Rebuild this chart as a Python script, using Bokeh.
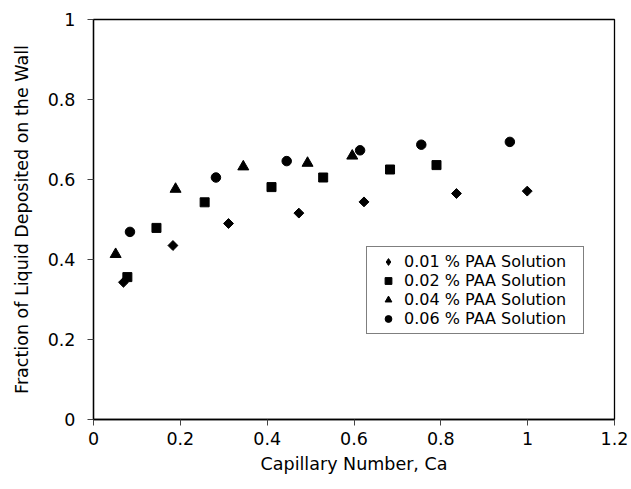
import math
from bokeh.plotting import figure
from bokeh.models import Range1d, FixedTicker, NumeralTickFormatter, Legend, LegendItem
from bokeh.embed import file_html
from bokeh.resources import INLINE

# Data
ca_001 = [0.069, 0.183, 0.311, 0.473, 0.623, 0.836, 0.999]
f_001 = [0.343, 0.435, 0.490, 0.516, 0.544, 0.565, 0.571]
ca_002 = [0.078, 0.145, 0.256, 0.410, 0.529, 0.683, 0.790]
f_002 = [0.356, 0.479, 0.543, 0.581, 0.605, 0.625, 0.636]
ca_004 = [0.051, 0.189, 0.345, 0.493, 0.596]
f_004 = [0.413, 0.576, 0.632, 0.641, 0.659]
ca_006 = [0.084, 0.282, 0.445, 0.614, 0.755, 0.959]
f_006 = [0.469, 0.605, 0.646, 0.673, 0.687, 0.694]

series_labels = ["0.01 % PAA Solution", "0.02 % PAA Solution",
                 "0.04 % PAA Solution", "0.06 % PAA Solution"]
x_ticks = [0, 0.2, 0.4, 0.6, 0.8, 1.0, 1.2]
y_ticks = [0, 0.2, 0.4, 0.6, 0.8, 1.0]

FONT = "DejaVu Sans"

p = figure(width=631, height=489, output_backend="svg", toolbar_location=None,
           x_range=Range1d(0, 1.2), y_range=Range1d(0, 1),
           min_border_left=93, min_border_right=17, min_border_top=19, min_border_bottom=70)
p.background_fill_color = "white"
p.border_fill_color = "white"
p.grid.visible = False
p.outline_line_color = "black"
p.outline_line_width = 1.3

p.xaxis.ticker = FixedTicker(ticks=x_ticks)
p.yaxis.ticker = FixedTicker(ticks=y_ticks)
p.xaxis.formatter = NumeralTickFormatter(format="0.[0]")
p.yaxis.formatter = NumeralTickFormatter(format="0.[0]")
for ax in (p.xaxis[0], p.yaxis[0]):
    ax.axis_line_color = "black"
    ax.axis_line_width = 1.3
    ax.major_tick_line_color = "#444444"
    ax.major_tick_out = 6
    ax.major_tick_in = 0
    ax.minor_tick_line_color = None
    ax.major_label_text_font = FONT
    ax.major_label_text_font_size = "17.5px"
    ax.major_label_text_color = "black"
    ax.axis_label_text_font = FONT
    ax.axis_label_text_font_size = "17.5px"
    ax.axis_label_text_font_style = "normal"
    ax.axis_label_text_color = "black"

p.xaxis.axis_label = "Capillary Number, Ca"
p.yaxis.axis_label = "Fraction of Liquid Deposited on the Wall"
p.xaxis.major_label_standoff = 6
p.yaxis.major_label_standoff = 12
p.xaxis.axis_label_standoff = 6
p.yaxis.axis_label_standoff = 13

r1 = p.scatter(ca_001, f_001, marker="square", angle=math.pi / 4, size=7,
               fill_color="black", line_color="black")
# legend swatch for the diamond series (legend swatches ignore the angle)
r1_key = p.scatter(ca_001, f_001, marker="diamond", size=11,
                   fill_color="black", line_color="black", visible=False)
r2 = p.scatter(ca_002, f_002, marker="square", size=9,
               fill_color="black", line_color="black")
r3 = p.scatter(ca_004, f_004, marker="triangle", size=11,
               fill_color="black", line_color="black")
r4 = p.scatter(ca_006, f_006, marker="circle", size=9.5,
               fill_color="black", line_color="black")

legend = Legend(items=[LegendItem(label=series_labels[i], renderers=[r])
                       for i, r in enumerate([r1_key, r2, r3, r4])],
                location=(273, 85))
legend.click_policy = "none"
legend.border_line_color = "black"
legend.border_line_width = 1
legend.background_fill_color = "white"
legend.background_fill_alpha = 1
legend.label_text_font = FONT
legend.label_text_font_size = "16px"
legend.label_text_color = "black"
legend.label_height = 17
legend.label_width = 174
legend.glyph_height = 17
legend.glyph_width = 32
legend.label_standoff = 0
legend.spacing = 0
legend.padding = 5
legend.margin = 0
p.add_layout(legend, "center")

open("out.html", "w").write(file_html(p, INLINE))
